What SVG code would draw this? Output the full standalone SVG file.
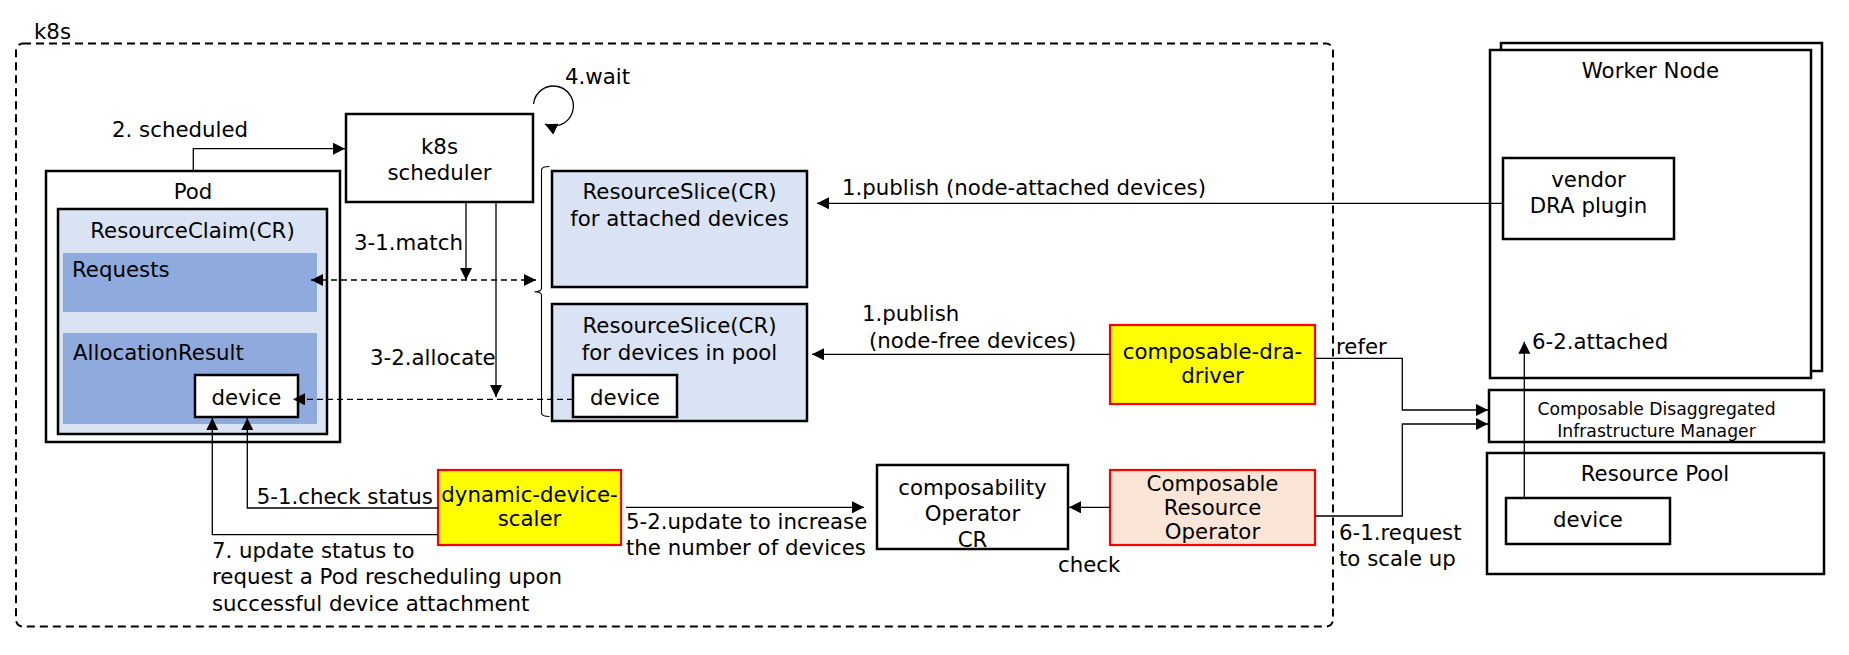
<svg xmlns="http://www.w3.org/2000/svg" width="1849" height="655" viewBox="0 0 1849 655">
<defs>
<marker id="ah" markerUnits="userSpaceOnUse" markerWidth="12" markerHeight="12" viewBox="0 0 10 10" refX="10" refY="5" orient="auto-start-reverse"><path d="M0,0 L10,5 L0,10 z" fill="#000"/></marker>
</defs>
<style>
text{font-family:"DejaVu Sans","Verdana",sans-serif;font-size:21.3px;fill:#000}
.c{text-anchor:middle}
.sm{font-size:17.2px}
.box{fill:#fff;stroke:#000;stroke-width:2.5}
.lb{fill:#dae3f3;stroke:#000;stroke-width:2.5}
.mb{fill:#8faadc;stroke:none}
.yl{fill:#ffff00;stroke:#ff0000;stroke-width:2.2}
.pe{fill:#fbe5d6;stroke:#ff0000;stroke-width:2.2}
.ln{fill:none;stroke:#000;stroke-width:1.3}
.dl{fill:none;stroke:#000;stroke-width:1.3;stroke-dasharray:6,4}
.ar{marker-end:url(#ah)}
</style>
<g id="k8s-cluster">
<rect x="16" y="43.5" width="1317" height="583" rx="7" fill="none" stroke="#000" stroke-width="2" stroke-dasharray="8,5"/>
<text x="34" y="39">k8s</text>
</g>
<g id="pod">
<rect class="box" x="46" y="171" width="294" height="271"/>
<text class="c" x="193" y="199">Pod</text>
<rect class="lb" x="58" y="209" width="269" height="225"/>
<text class="c" x="192.5" y="238">ResourceClaim(CR)</text>
<rect class="mb" x="63" y="253" width="254" height="59"/>
<text x="72" y="277">Requests</text>
<rect class="mb" x="63" y="333" width="254" height="91"/>
<text x="73" y="360">AllocationResult</text>
<rect class="box" x="195" y="375" width="103" height="42"/>
<text class="c" x="246.5" y="405">device</text>
</g>
<g id="scheduler">
<rect class="box" x="346" y="114" width="187" height="88"/>
<text class="c" x="439.5" y="154">k8s</text>
<text class="c" x="439.5" y="180">scheduler</text>
</g>
<g id="slice-attached">
<rect class="lb" x="552" y="171" width="255" height="116"/>
<text class="c" x="679.5" y="199">ResourceSlice(CR)</text>
<text class="c" x="679.5" y="225.5">for attached devices</text>
</g>
<g id="slice-pool">
<rect class="lb" x="552" y="304" width="255" height="117"/>
<text class="c" x="679.5" y="333">ResourceSlice(CR)</text>
<text class="c" x="679.5" y="359.5">for devices in pool</text>
<rect class="box" x="573" y="375" width="104" height="42"/>
<text class="c" x="625" y="405">device</text>
</g>
<g id="composable-dra-driver">
<rect class="yl" x="1110" y="325" width="205" height="79"/>
<text class="c" x="1212.5" y="359.3">composable-dra-</text>
<text class="c" x="1212.5" y="383.3">driver</text>
</g>
<g id="composable-resource-operator">
<rect class="pe" x="1110" y="470" width="205" height="75"/>
<text class="c" x="1212.5" y="491">Composable</text>
<text class="c" x="1212.5" y="515">Resource</text>
<text class="c" x="1212.5" y="539">Operator</text>
</g>
<g id="composability-cr">
<rect class="box" x="877" y="465" width="191" height="84"/>
<text class="c" x="972.5" y="495">composability</text>
<text class="c" x="972.5" y="521">Operator</text>
<text class="c" x="972.5" y="547">CR</text>
</g>
<g id="dynamic-device-scaler">
<rect class="yl" x="438" y="470" width="183" height="75"/>
<text class="c" x="529.5" y="501.7">dynamic-device-</text>
<text class="c" x="529.5" y="526">scaler</text>
</g>
<g id="worker-node">
<rect class="box" x="1501" y="43" width="321" height="328"/>
<rect class="box" x="1490" y="50" width="321" height="328"/>
<text class="c" x="1650.5" y="78.3">Worker Node</text>
</g>
<g id="vendor-dra-plugin">
<rect class="box" x="1503" y="158" width="171" height="81"/>
<text class="c" x="1588.5" y="187.3">vendor</text>
<text class="c" x="1588.5" y="213.3">DRA plugin</text>
</g>
<g id="cdim">
<rect class="box" x="1489" y="390" width="335" height="52"/>
<text class="c sm" x="1656.5" y="415">Composable Disaggregated</text>
<text class="c sm" x="1656.5" y="436.7">Infrastructure Manager</text>
</g>
<g id="resource-pool">
<rect class="box" x="1487" y="453" width="337" height="121"/>
<text class="c" x="1655" y="481">Resource Pool</text>
<rect class="box" x="1506" y="498" width="164" height="46"/>
<text class="c" x="1588" y="526.7">device</text>
</g>
<g id="connectors">
<path class="ln ar" d="M193.3,171 V148.7 H345"/>
<text x="112" y="137">2. scheduled</text>
<path class="ln ar" d="M533.5,104 A20,20 0 1 1 545,124.2"/>
<text x="565" y="84">4.wait</text>
<path class="ln ar" d="M466,202 V280"/>
<text x="354" y="250">3-1.match</text>
<path class="ln ar" d="M496,202 V397"/>
<text x="370" y="365">3-2.allocate</text>
<path class="dl" d="M311,280 H536" marker-start="url(#ah)" marker-end="url(#ah)"/>
<path class="dl ar" d="M573,399.3 H293"/>
<path d="M549.5,166.5 Q541.5,166.5 541.5,170 V288 Q541.5,291.7 534.5,291.7 Q541.5,291.7 541.5,295 V413 Q541.5,416.5 549.5,416.5" fill="none" stroke="#000" stroke-width="1.1"/>
<path class="ln ar" d="M1503,203.3 H817"/>
<text x="842" y="195">1.publish (node-attached devices)</text>
<path class="ln ar" d="M1110,354.3 H812"/>
<text x="862" y="321">1.publish</text>
<text x="869" y="347.7">(node-free devices)</text>
<path class="ln ar" d="M1110,507.3 H1069"/>
<text x="1058" y="572">check</text>
<path class="ln ar" d="M438,508 H247.3 V418"/>
<text x="256.7" y="504">5-1.check status</text>
<path class="ln ar" d="M438,534.7 H212.3 V418"/>
<text x="212" y="558">7. update status to</text>
<text x="212" y="584.3">request a Pod rescheduling upon</text>
<text x="212" y="611">successful device attachment</text>
<path class="ln ar" d="M626,507.3 H864"/>
<text x="626" y="529">5-2.update to increase</text>
<text x="626" y="555">the number of devices</text>
<path class="ln ar" d="M1315,358.3 H1402.3 V410 H1488"/>
<text x="1336" y="354">refer</text>
<path class="ln ar" d="M1315,516 H1402.3 V424 H1488"/>
<text x="1339" y="540">6-1.request</text>
<text x="1339" y="565.7">to scale up</text>
<path class="ln ar" d="M1524.3,498 V341.7"/>
<text x="1532" y="349">6-2.attached</text>
</g>
</svg>
